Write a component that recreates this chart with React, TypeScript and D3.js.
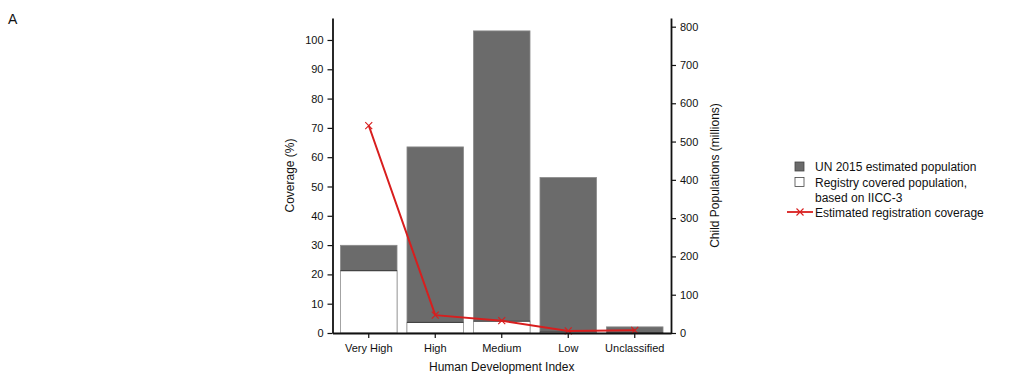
import { useRef, useEffect } from "react";
import * as d3 from "d3";

// ─── Data ────────────────────────────────────────────────────────────────────

const categories = ["Very High", "High", "Medium", "Low", "Unclassified"];
const unPopulation = [229, 486, 789, 406, 16]; // millions
const registryPopulation = [163, 28, 31, 3, 0.1]; // millions
const coverage = [70.8, 6.1, 4.2, 0.7, 0.9]; // %
const leftTicks = [0, 10, 20, 30, 40, 50, 60, 70, 80, 90, 100];
const rightTicks = [0, 100, 200, 300, 400, 500, 600, 700, 800];

const W = 1019;
const H = 382;
const PLOT = { left: 332.5, right: 671, top: 18, bottom: 333 };
const FONT = "'Liberation Sans', Arial, sans-serif";
const RED = "#d81e1e";

export default function App() {
  const svgRef = useRef<SVGSVGElement>(null);

  useEffect(() => {
    if (!svgRef.current) return;
    const svg = d3.select(svgRef.current);
    svg.selectAll("*").remove();

    // ── Scales ──────────────────────────────────────────────────────────────
    const x = d3
      .scaleBand()
      .domain(categories)
      .range([PLOT.left, PLOT.right])
      .paddingInner(0.15)
      .paddingOuter(0.12);
    const yLeft = d3.scaleLinear().domain([0, 107.5]).range([PLOT.bottom, PLOT.top]);
    const yRight = d3.scaleLinear().domain([0, 822.7]).range([PLOT.bottom, PLOT.top]);

    const g = svg.append("g");

    // ── Bars ─────────────────────────────────────────────────────────────────
    g.selectAll(".un")
      .data(categories)
      .enter()
      .append("rect")
      .attr("x", (d) => x(d)!)
      .attr("y", (_, i) => yRight(unPopulation[i]))
      .attr("width", x.bandwidth())
      .attr("height", (_, i) => PLOT.bottom - yRight(unPopulation[i]))
      .attr("fill", "#6b6b6b")
      .attr("stroke", "#8a8a8a")
      .attr("stroke-width", 0.8);

    g.selectAll(".reg")
      .data(categories)
      .enter()
      .append("rect")
      .attr("x", (d) => x(d)!)
      .attr("y", (_, i) => yRight(registryPopulation[i]))
      .attr("width", x.bandwidth())
      .attr("height", (_, i) => PLOT.bottom - yRight(registryPopulation[i]))
      .attr("fill", "#ffffff")
      .attr("stroke", "#9a9a9a")
      .attr("stroke-width", 0.8);

    g.selectAll(".regtop")
      .data(categories)
      .enter()
      .append("line")
      .attr("x1", (d) => x(d)!)
      .attr("x2", (d) => x(d)! + x.bandwidth())
      .attr("y1", (_, i) => yRight(registryPopulation[i]))
      .attr("y2", (_, i) => yRight(registryPopulation[i]))
      .attr("stroke", "#444")
      .attr("stroke-width", 1.2);

    // ── Coverage line ────────────────────────────────────────────────────────
    const cx = (d: string) => x(d)! + x.bandwidth() / 2;
    const line = d3
      .line<number>()
      .x((_, i) => cx(categories[i]))
      .y((d) => yLeft(d));
    g.append("path")
      .attr("d", line(coverage))
      .attr("fill", "none")
      .attr("stroke", RED)
      .attr("stroke-width", 2);

    const s = 3.5;
    coverage.forEach((v, i) => {
      const px = cx(categories[i]);
      const py = yLeft(v);
      g.append("path")
        .attr("d", `M${px - s},${py - s}L${px + s},${py + s}M${px - s},${py + s}L${px + s},${py - s}`)
        .attr("stroke", RED)
        .attr("stroke-width", 1.1);
    });

    // ── Axes ─────────────────────────────────────────────────────────────────
    const styleAxis = (sel: d3.Selection<SVGGElement, unknown, null, undefined>) => {
      sel.select(".domain").attr("stroke", "#111").attr("stroke-width", 1.8);
      sel.selectAll(".tick line").attr("stroke", "#111").attr("stroke-width", 1.2);
      sel.selectAll("text").attr("fill", "#111").attr("font-size", 11).attr("font-family", FONT);
    };

    svg
      .append("g")
      .attr("transform", `translate(${PLOT.left},0)`)
      .call(d3.axisLeft(yLeft).tickValues(leftTicks).tickSize(5).tickSizeOuter(0).tickPadding(4))
      .call(styleAxis);

    svg
      .append("g")
      .attr("transform", `translate(${PLOT.right},0)`)
      .call(d3.axisRight(yRight).tickValues(rightTicks).tickSize(5).tickSizeOuter(0).tickPadding(4))
      .call(styleAxis);

    svg
      .append("g")
      .attr("transform", `translate(0,${PLOT.bottom})`)
      .call(d3.axisBottom(x).tickSize(5).tickSizeOuter(0).tickPadding(6))
      .call(styleAxis);

    // ── Axis titles ──────────────────────────────────────────────────────────
    svg
      .append("text")
      .attr("x", (PLOT.left + PLOT.right) / 2)
      .attr("y", 371)
      .attr("text-anchor", "middle")
      .attr("font-size", 12)
      .attr("font-family", FONT)
      .attr("fill", "#111")
      .text("Human Development Index");

    svg
      .append("text")
      .attr("transform", `translate(294,${(PLOT.top + PLOT.bottom) / 2}) rotate(-90)`)
      .attr("text-anchor", "middle")
      .attr("font-size", 12)
      .attr("font-family", FONT)
      .attr("fill", "#111")
      .text("Coverage (%)");

    svg
      .append("text")
      .attr("transform", `translate(719,${(PLOT.top + PLOT.bottom) / 2}) rotate(-90)`)
      .attr("text-anchor", "middle")
      .attr("font-size", 12)
      .attr("font-family", FONT)
      .attr("fill", "#111")
      .text("Child Populations (millions)");

    // ── Panel label ──────────────────────────────────────────────────────────
    svg
      .append("text")
      .attr("x", 8)
      .attr("y", 24)
      .attr("font-size", 14)
      .attr("font-family", FONT)
      .attr("fill", "#111")
      .text("A");

    // ── Legend ───────────────────────────────────────────────────────────────
    const lg = svg.append("g").attr("font-family", FONT).attr("font-size", 12).attr("fill", "#111");
    lg.append("rect").attr("x", 795).attr("y", 162).attr("width", 9).attr("height", 9)
      .attr("fill", "#6b6b6b").attr("stroke", "#444").attr("stroke-width", 0.8);
    lg.append("text").attr("x", 815).attr("y", 171).text("UN 2015 estimated population");
    lg.append("rect").attr("x", 795).attr("y", 177.5).attr("width", 9).attr("height", 9)
      .attr("fill", "#fff").attr("stroke", "#444").attr("stroke-width", 0.8);
    lg.append("text").attr("x", 815).attr("y", 186.5).text("Registry covered population,");
    lg.append("text").attr("x", 815).attr("y", 201.5).text("based on IICC-3");
    lg.append("line").attr("x1", 787).attr("x2", 813).attr("y1", 212).attr("y2", 212)
      .attr("stroke", RED).attr("stroke-width", 1.8);
    lg.append("path")
      .attr("d", `M${800 - s},${212 - s}L${800 + s},${212 + s}M${800 - s},${212 + s}L${800 + s},${212 - s}`)
      .attr("stroke", RED).attr("stroke-width", 1.1);
    lg.append("text").attr("x", 815).attr("y", 216.5).text("Estimated registration coverage");
  }, []);

  return (
    <svg
      ref={svgRef}
      width={W}
      height={H}
      style={{ position: "absolute", left: 0, top: 0, background: "#fff" }}
    />
  );
}
